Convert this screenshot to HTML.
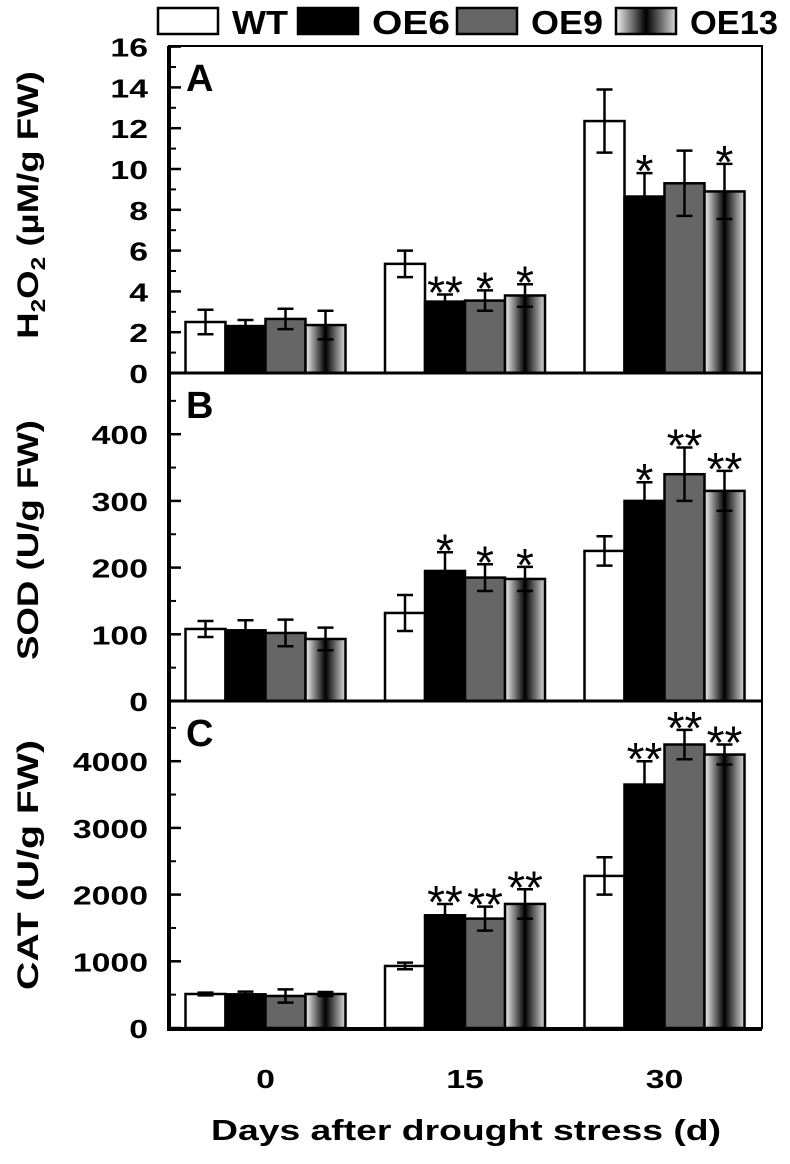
<!DOCTYPE html>
<html><head><meta charset="utf-8"><style>
body{margin:0;background:#fff}
svg text{font-family:"Liberation Sans",Arial,sans-serif;font-weight:bold;fill:#000}
</style></head><body>
<svg id="c" width="790" height="1159" viewBox="0 0 790 1159">
<defs><linearGradient id="g13" x1="0" x2="1" y1="0" y2="0">
<stop offset="0" stop-color="#f2f2f2"/><stop offset="0.5" stop-color="#000"/><stop offset="1" stop-color="#d8d8d8"/></linearGradient></defs>
</svg>
<script>
const categories=["0","15","30"];
const series=["WT","OE6","OE9","OE13"];
const h2o2=[[2.5,2.3,2.65,2.35],[5.35,3.5,3.55,3.8],[12.35,8.65,9.3,8.9]];
const h2o2Err=[[0.6,0.3,0.5,0.7],[0.65,0.35,0.5,0.55],[1.55,1.15,1.6,1.35]];
const h2o2Sig=[["","","",""],["","**","*","*"],["","*","","*"]];
const sod=[[108,106,102,93],[132,195,185,183],[225,300,340,315]];
const sodErr=[[12,15,20,17],[27,28,20,18],[22,28,40,30]];
const sodSig=[["","","",""],["","*","*","*"],["","*","**","**"]];
const cat=[[510,505,480,510],[930,1690,1640,1860],[2280,3650,4250,4100]];
const catErr=[[20,40,100,30],[50,170,180,220],[280,350,220,150]];
const catSig=[["","","",""],["","**","**","**"],["","**","**","**"]];
const ticksA=[0,2,4,6,8,10,12,14,16];
const ticksB=[0,100,200,300,400];
const ticksC=[0,1000,2000,3000,4000];

const svg=document.getElementById('c');
const NS="http://www.w3.org/2000/svg";
function mk(t,a,p){const e=document.createElementNS(NS,t);for(const k in a)e.setAttribute(k,a[k]);(p||svg).appendChild(e);return e;}
const fills=["#fff","#000","#666","url(#g13)"];
const X0=169,X1=762,BW=40,GAP=199.5,FIRST=185.5;
function xBar(g,s){return FIRST+g*GAP+s*BW;}

const panels=[
 {key:"a",label:"A",top:46,y0:373,ppu:20.4,data:h2o2,err:h2o2Err,sig:h2o2Sig,ticks:ticksA,minor:1},
 {key:"b",label:"B",top:373,y0:701,ppu:0.667,data:sod,err:sodErr,sig:sodSig,ticks:ticksB,minor:50},
 {key:"c",label:"C",top:701,y0:1028,ppu:0.0667,data:cat,err:catErr,sig:catSig,ticks:ticksC,minor:500}
];
panels.forEach(p=>{
 const g=mk('g',{});
 
 
 const Y=v=>p.y0-v*p.ppu;
 const maxV=(p.y0-p.top)/p.ppu;
 for(let v=p.minor;v<maxV;v+=p.minor){
  if(p.ticks.indexOf(v)>=0) continue;
  mk('line',{x1:X0,x2:X0+7,y1:Y(v),y2:Y(v),stroke:"#000","stroke-width":2},g);
 }
 p.ticks.forEach(v=>{
  const l=mk('line',{x1:X0,x2:X0+12,y1:Y(v),y2:Y(v),stroke:"#000","stroke-width":2.5},g);
  
  
  const t=mk('text',{x:0,y:0,"text-anchor":"end","font-size":26,transform:`translate(148,${Y(v)+10}) scale(1.3,1)`},g);
  t.textContent=v;
  
  
 });
 p.data.forEach((grp,gi)=>grp.forEach((v,si)=>{
  const x=xBar(gi,si);
  const r=mk('rect',{x:x,y:Y(v),width:BW,height:p.y0-Y(v),fill:fills[si],stroke:"#000","stroke-width":2.5},g);
  
  
  const e=p.err[gi][si],cx=x+BW/2;
  const eb=mk('path',{d:`M${cx},${Y(v-e)}V${Y(v+e)}M${cx-8},${Y(v+e)}H${cx+8}M${cx-8},${Y(v-e)}H${cx+8}`,stroke:"#000","stroke-width":2.5,fill:"none"},g);
  
  
  const s=p.sig[gi][si];
  if(s){
   const st=mk('text',{x:cx,y:Y(v+e)+14,"text-anchor":"middle","font-size":46,style:"font-weight:normal"},g);
   st.textContent=s;
   
   
  }
 }));
 const lb=mk('text',{x:186,y:p.top+45,"font-size":38},g);
 lb.textContent=p.label;
 
 
});
const fr=mk('path',{d:`M${X0},46H${X1}V1028H${X0}Z`,stroke:"#000","stroke-width":2,fill:"none"});


mk('line',{x1:X0,x2:X0,y1:46,y2:1030,stroke:"#000","stroke-width":4});
mk('line',{x1:X0-2,x2:X1,y1:1029,y2:1029,stroke:"#000","stroke-width":4});
mk('line',{x1:X0,x2:X1,y1:373,y2:373,stroke:"#000","stroke-width":3});
mk('line',{x1:X0,x2:X1,y1:701,y2:701,stroke:"#000","stroke-width":3});
categories.forEach((c,gi)=>{
 const t=mk('text',{x:0,y:0,"text-anchor":"middle","font-size":26,transform:`translate(${xBar(gi,2)},1088) scale(1.3,1)`});
 t.textContent=c;
 
 
});
const xt=mk('text',{x:466,y:1140,"text-anchor":"middle","font-size":29,textLength:510,lengthAdjust:"spacingAndGlyphs"});
xt.textContent="Days after drought stress (d)";


function ytitle(name,cy,len,html){
 const t=mk('text',{x:0,y:0,"text-anchor":"middle","font-size":30,textLength:len,lengthAdjust:"spacingAndGlyphs",transform:`translate(38,${cy}) rotate(-90)`});
 t.innerHTML=html;
 
 
}
ytitle('y-axis-title-h2o2',205,0,'H<tspan font-size="20" dy="7">2</tspan><tspan dy="-7">O</tspan><tspan font-size="20" dy="7">2</tspan><tspan dy="-7"> (µM/g FW)</tspan>');
const h=svg.lastChild; h.removeAttribute('textLength'); h.setAttribute('transform','translate(38,205) rotate(-90) scale(1.22,1)');
ytitle('y-axis-title-sod',540,240,'SOD (U/g FW)');
ytitle('y-axis-title-cat',865,250,'CAT (U/g FW)');
const lx=[158,298,457,616];
const lw=[56,78,72,88];
series.forEach((s,i)=>{
 const g=mk('g',{});
 
 
 mk('rect',{x:lx[i],y:8,width:60,height:26,fill:fills[i],stroke:"#000","stroke-width":2.5},g);
 const t=mk('text',{x:lx[i]+74,y:34,"font-size":33,textLength:lw[i],lengthAdjust:"spacingAndGlyphs"},g);
 t.textContent=s;
});
</script>
</body></html>
